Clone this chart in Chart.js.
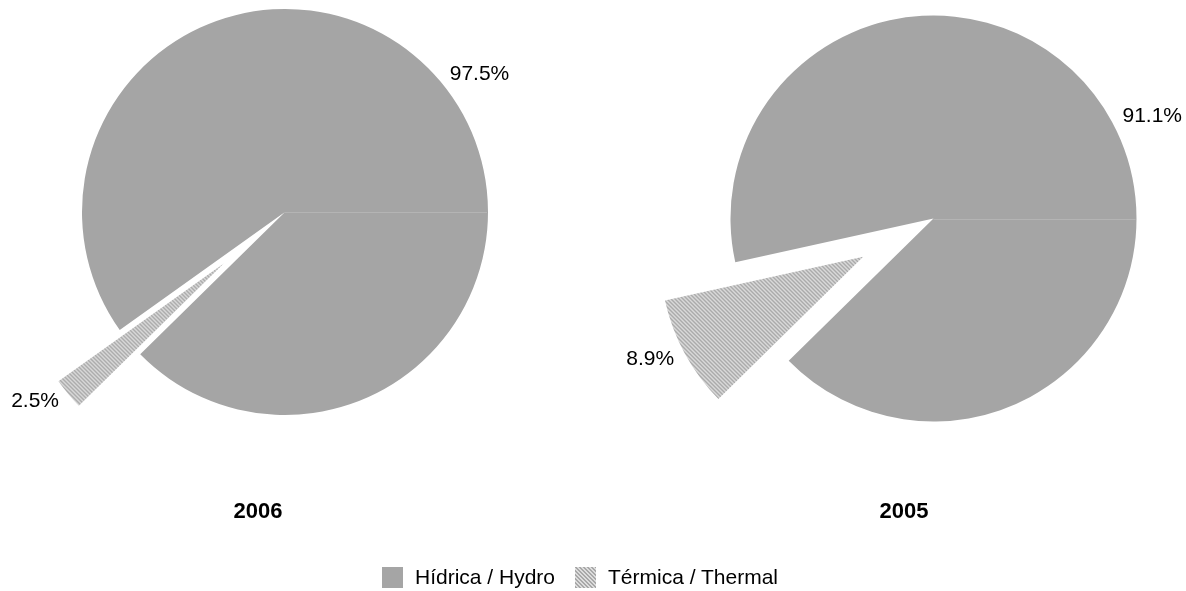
<!DOCTYPE html>
<html>
<head>
<meta charset="utf-8">
<script src="https://cdn.jsdelivr.net/npm/chart.js@4.4.1/dist/chart.umd.min.js"></script>
<style>
  html, body { margin: 0; padding: 0; background: #fff; overflow: hidden; }
  body { width: 1186px; height: 591px; position: relative; font-family: "Liberation Sans", Arial, sans-serif; color: #000; }
  canvas.pie { position: absolute; left: 0; top: 0; }
  .year { position: absolute; top: 498px; width: 100px; text-align: center; font-weight: bold; font-size: 22px; line-height: 26px; }
  #legend { position: absolute; left: 382px; top: 565px; height: 24px; display: flex; align-items: center; font-size: 21px; white-space: nowrap; }
  #legend .item { display: flex; align-items: center; margin-right: 20px; }
  #legend .sw { width: 21px; height: 21px; margin-right: 12px; display: block; }
</style>
</head>
<body>
<canvas id="pie2006" class="pie" width="1186" height="591"></canvas>
<canvas id="pie2005" class="pie" width="1186" height="591"></canvas>
<div class="year" style="left:208px">2006</div>
<div class="year" style="left:854px">2005</div>
<div id="legend"></div>

<script>
// data
const categories = ["Hídrica / Hydro", "Térmica / Thermal"];
const years = ["2006", "2005"];
const values2006 = [97.5, 2.5];
const values2005 = [91.1, 8.9];

const hydroColor = "#a5a5a5";
const pieRadius = 203;
const thermalStart = 225.5; // degrees from 12 o'clock where the thermal slice begins
const explodePx = [0, 80]; // how far each slice is pulled out

// diagonal hatch used for the thermal slice
const makeHatch = (ctx) => {
  const tile = document.createElement("canvas");
  tile.width = 4;
  tile.height = 4;
  const g = tile.getContext("2d");
  g.fillStyle = "#dddddd";
  g.fillRect(0, 0, 4, 4);
  g.fillStyle = "#a8a8a8";
  for (let y = 0; y < 4; y++) {
    for (let x = 0; x < 4; x++) {
      if ((((x - y) % 4) + 4) % 4 < 2) g.fillRect(x, y, 1, 1);
    }
  }
  return ctx.createPattern(tile, "repeat");
};

// chart.js' own offset also trims and grows the arc, so slide the arcs out ourselves
const explode = {
  id: "explode",
  beforeDatasetDraw(chart, args, opts) {
    const ctx = chart.ctx;
    args.meta.data.forEach((arc, i) => {
      const shift = (opts.px && opts.px[i]) || 0;
      const mid = (arc.startAngle + arc.endAngle) / 2;
      ctx.save();
      ctx.translate(Math.cos(mid) * shift, Math.sin(mid) * shift);
      arc.draw(ctx, chart.chartArea);
      ctx.restore();
    });
    return false;
  },
};

// percentage labels outside each slice
const pctLabels = {
  id: "pctLabels",
  afterDatasetsDraw(chart) {
    const ctx = chart.ctx;
    const meta = chart.getDatasetMeta(0);
    const values = chart.data.datasets[0].data;
    const px = chart.options.plugins.explode.px;
    ctx.save();
    ctx.font = '21px "Liberation Sans", Arial, sans-serif';
    ctx.fillStyle = "#000";
    ctx.textBaseline = "middle";
    meta.data.forEach((arc, i) => {
      const mid = (arc.startAngle + arc.endAngle) / 2;
      const d = (px[i] || 0) + arc.outerRadius + 12;
      ctx.textAlign = Math.cos(mid) >= 0 ? "left" : "right";
      ctx.fillText(values[i].toFixed(1) + "%", arc.x + Math.cos(mid) * d, arc.y + Math.sin(mid) * d);
    });
    ctx.restore();
  },
};

// faint seam at 3 o'clock like in the original rendering
const seam = {
  id: "seam",
  afterDatasetsDraw(chart) {
    const arc = chart.getDatasetMeta(0).data[0];
    const ctx = chart.ctx;
    const y = Math.round(arc.y) + 0.5;
    ctx.save();
    ctx.strokeStyle = "#b4b4b4";
    ctx.lineWidth = 1;
    ctx.beginPath();
    ctx.moveTo(arc.x, y);
    ctx.lineTo(arc.x + arc.outerRadius - 1, y);
    ctx.stroke();
    ctx.restore();
  },
};

const makePie = (id, values, padding) => {
  const ctx = document.getElementById(id).getContext("2d");
  const hatch = makeHatch(ctx);
  return new Chart(ctx, {
    type: "pie",
    data: {
      labels: categories,
      datasets: [
        {
          data: values,
          backgroundColor: [hydroColor, hatch],
          borderWidth: 0,
          clip: false,
        },
      ],
    },
    options: {
      responsive: false,
      animation: false,
      radius: pieRadius,
      rotation: thermalStart + values[1] * 3.6,
      layout: { padding: padding },
      plugins: {
        legend: { display: false },
        title: { display: false },
        tooltip: { enabled: false },
        explode: { px: explodePx },
      },
      events: [],
    },
    plugins: [explode, seam, pctLabels],
  });
};

makePie("pie2006", values2006, { left: 0, right: 616, top: 0, bottom: 167 });
makePie("pie2005", values2005, { left: 681, right: 0, top: 0, bottom: 154 });

// legend
const legend = document.getElementById("legend");
categories.forEach((name, i) => {
  const item = document.createElement("div");
  item.className = "item";
  const sw = document.createElement("canvas");
  sw.className = "sw";
  sw.width = 21;
  sw.height = 21;
  const sctx = sw.getContext("2d");
  sctx.fillStyle = i === 0 ? hydroColor : makeHatch(sctx);
  sctx.fillRect(0, 0, 21, 21);
  const label = document.createElement("span");
  label.textContent = name;
  item.appendChild(sw);
  item.appendChild(label);
  legend.appendChild(item);
});
</script>
</body>
</html>
